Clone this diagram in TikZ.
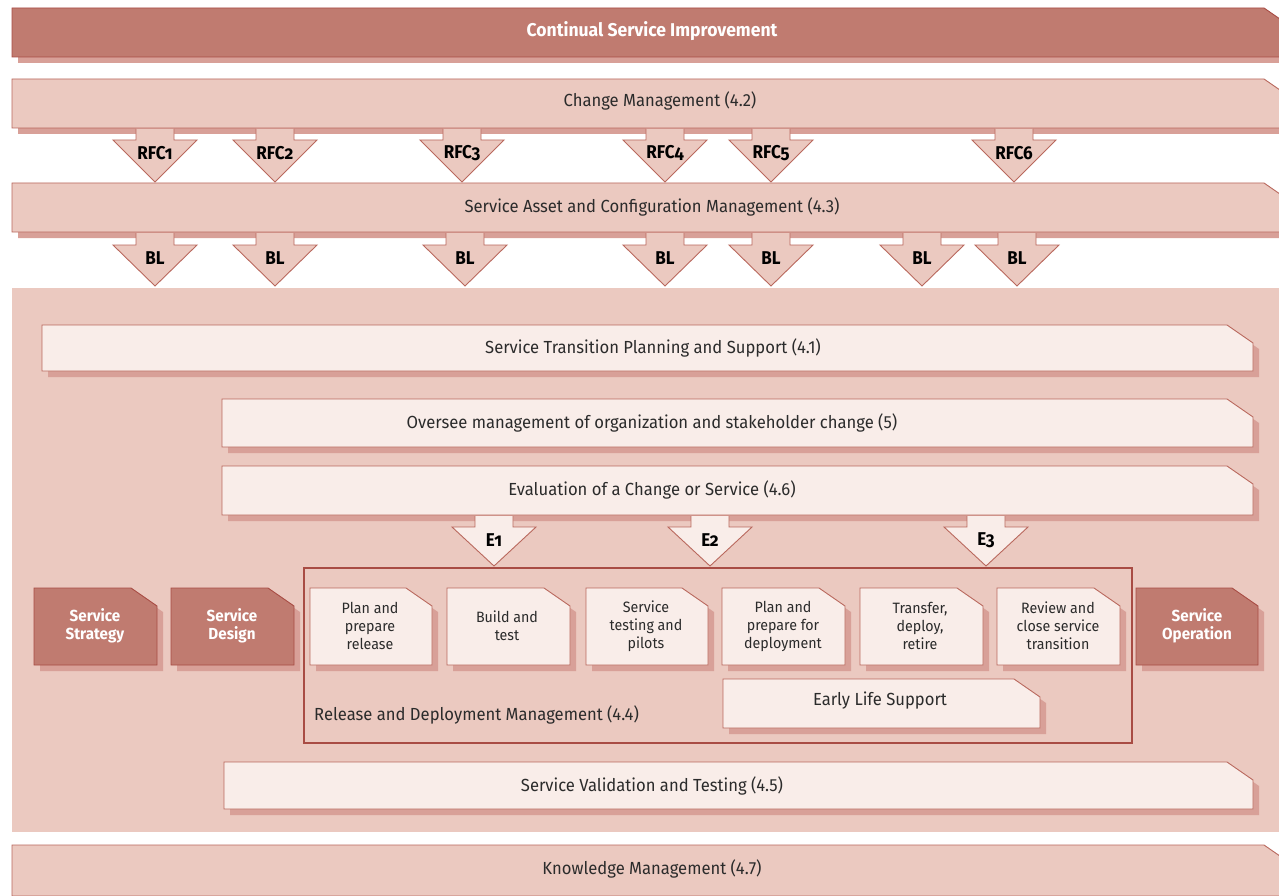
\documentclass[tikz,border=0pt]{standalone}
\usepackage{fontspec}
\setmainfont{Fira Sans}[FakeStretch=0.95]
\newfontfamily\lblfont{Fira Sans}[Numbers=OldStyle,FakeStretch=0.92]
\definecolor{darkfill}{HTML}{C07B70}
\definecolor{midfill}{HTML}{EBC9C0}
\definecolor{lightfill}{HTML}{F9EDE9}
\definecolor{edgec}{HTML}{B9685D}
\definecolor{shadowc}{HTML}{D8A098}
\definecolor{framec}{HTML}{A84C44}
\definecolor{inkc}{HTML}{2B2B2B}

% chamfered box with drop shadow: x1, y1, x2, y2, style
\newcommand\chbox[5]{%
  \fill[shadowc] (#1+6,#2+6) -- (#3-20,#2+6) -- (#3+6,#2+24) -- (#3+6,#4+6) -- (#1+6,#4+6) -- cycle;
  \filldraw[#5] (#1,#2) -- (#3-26,#2) -- (#3,#2+18) -- (#3,#4) -- (#1,#4) -- cycle;
}
% block arrow: name, centre x, stem top, head top, tip, fill, label
\newcommand\blockarrow[7]{%
  \fill[#6] (#2-19,#3) -- (#2-19,#4) -- (#2-42,#4) -- (#2,#5) -- (#2+42,#4) -- (#2+19,#4) -- (#2+19,#3) -- cycle;
  \draw[arrowline] (#2-19,#3) -- (#2-19,#4) -- (#2-42,#4) -- (#2,#5) -- (#2+42,#4) -- (#2+19,#4) -- (#2+19,#3);
  \node[arrtext] (#1) at (#2,#4+13) {#7};
}

\begin{document}
\begin{tikzpicture}[x=1pt,y=-1pt,
  darkbox/.style={fill=darkfill,draw=framec,line width=0.9pt},
  midbox/.style={fill=midfill,draw=edgec,line width=0.9pt},
  lightbox/.style={fill=lightfill,draw=edgec,line width=0.9pt},
  arrowline/.style={draw=edgec,line width=0.9pt},
  bartext/.style={inner sep=0pt,text=inkc,font=\fontsize{17.5}{20}\selectfont},
  smalltext/.style={inner sep=0pt,align=center,text=inkc,font=\fontsize{15}{18}\selectfont},
  darktext/.style={inner sep=0pt,align=center,text=white,font=\fontsize{16}{18}\selectfont\bfseries},
  arrtext/.style={inner sep=0pt,text=black,font=\lblfont\fontsize{18.5}{20}\selectfont\bfseries}]
\useasboundingbox (0,0) rectangle (1279,896);
\clip (0,0) rectangle (1279,896);
\fill[white] (0,0) rectangle (1279,896);

% outer bars
\chbox{12}{8}{1290}{57}{darkbox}
\node[inner sep=0pt,text=white,font=\fontsize{18.5}{20}\selectfont\bfseries] (csi) at (652,31) {Continual Service Improvement};
\chbox{12}{79}{1290}{128}{midbox}
\node[bartext] (chg) at (660,101) {Change Management (4.2)};
\chbox{12}{183}{1290}{232}{midbox}
\node[bartext] (sacm) at (652,207) {Service Asset and Configuration Management (4.3)};

% requests for change
\blockarrow{rfc1}{155}{129}{140}{182}{midfill}{RFC1}
\blockarrow{rfc2}{275}{129}{140}{182}{midfill}{RFC2}
\blockarrow{rfc3}{462}{129}{140}{182}{midfill}{RFC3}
\blockarrow{rfc4}{665}{129}{140}{182}{midfill}{RFC4}
\blockarrow{rfc5}{771}{129}{140}{182}{midfill}{RFC5}
\blockarrow{rfc6}{1014}{129}{140}{182}{midfill}{RFC6}

% transition panel
\fill[midfill] (12,288) rectangle (1290,832);

% baselines
\blockarrow{bl1}{155}{233}{245}{286}{midfill}{BL}
\blockarrow{bl2}{275}{233}{245}{286}{midfill}{BL}
\blockarrow{bl3}{465}{233}{245}{286}{midfill}{BL}
\blockarrow{bl4}{665}{233}{245}{286}{midfill}{BL}
\blockarrow{bl5}{771}{233}{245}{286}{midfill}{BL}
\blockarrow{bl6}{922}{233}{245}{286}{midfill}{BL}
\blockarrow{bl7}{1017}{233}{245}{286}{midfill}{BL}

% transition processes
\chbox{42}{325}{1253}{371}{lightbox}
\node[bartext] (stps) at (653,348) {Service Transition Planning and Support (4.1)};
\chbox{222}{399}{1253}{447}{lightbox}
\node[bartext] (osc) at (652,423) {Oversee management of organization and stakeholder change (5)};
\chbox{222}{466}{1253}{515}{lightbox}
\node[bartext] (eval) at (652,490) {Evaluation of a Change or Service (4.6)};

% evaluation points
\blockarrow{e1}{494}{516}{527}{566}{lightfill}{E1}
\blockarrow{e2}{710}{516}{527}{566}{lightfill}{E2}
\blockarrow{e3}{986}{516}{527}{566}{lightfill}{E3}

% release and deployment frame
\draw[framec,line width=2pt] (304,568) rectangle (1132,743);
\node[bartext,anchor=west] (rdm) at (314,715) {Release and Deployment Management (4.4)};

% lifecycle stages
\chbox{34}{588}{157}{665}{darkbox}
\node[darktext] (ss) at (95,626) {Service\\Strategy};
\chbox{171}{588}{294}{665}{darkbox}
\node[darktext] (sd) at (232,626) {Service\\Design};
\chbox{1136}{588}{1258}{665}{darkbox}
\node[darktext] (so) at (1197,626) {Service\\Operation};

% release steps
\chbox{310}{588}{432}{665}{lightbox}
\node[smalltext] (p1) at (370,626) {Plan and\\prepare\\release};
\chbox{447}{588}{570}{665}{lightbox}
\node[smalltext] (p2) at (507,626) {Build and\\test};
\chbox{586}{588}{708}{665}{lightbox}
\node[smalltext] (p3) at (646,626) {Service\\testing and\\pilots};
\chbox{722}{588}{845}{665}{lightbox}
\node[smalltext] (p4) at (783,626) {Plan and\\prepare for\\deployment};
\chbox{860}{588}{983}{665}{lightbox}
\node[smalltext] (p5) at (920,626) {Transfer,\\deploy,\\retire};
\chbox{997}{588}{1120}{665}{lightbox}
\node[smalltext] (p6) at (1058,626) {Review and\\close service\\transition};

\chbox{723}{679}{1040}{728}{lightbox}
\node[bartext] (els) at (880,701) {Early Life Support};

\chbox{224}{762}{1253}{809}{lightbox}
\node[bartext] (svt) at (652,786) {Service Validation and Testing (4.5)};

% knowledge management
\chbox{12}{845}{1290}{896}{midbox}
\node[bartext] (km) at (652,869) {Knowledge Management (4.7)};
\end{tikzpicture}
\end{document}
